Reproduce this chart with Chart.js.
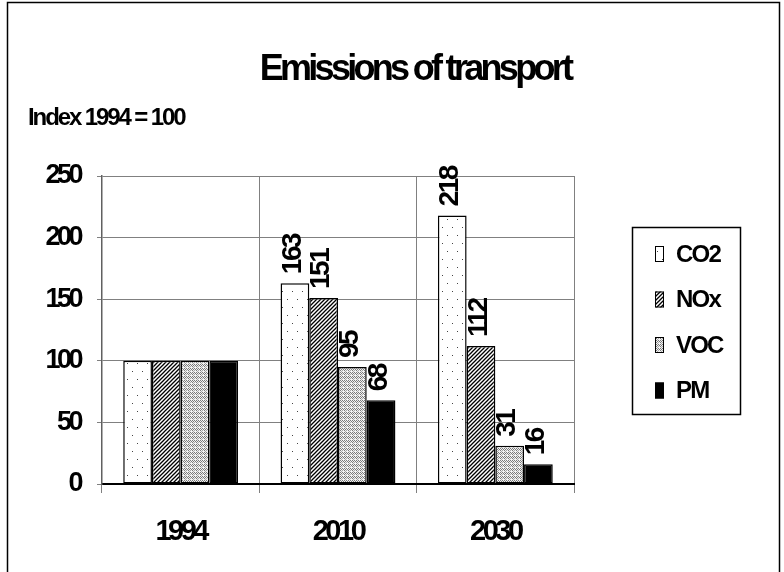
<!DOCTYPE html>
<html>
<head>
<meta charset="utf-8">
<script src="https://cdn.jsdelivr.net/npm/chart.js@4/dist/chart.umd.min.js"></script>
<style>
  html, body { margin: 0; padding: 0; background: #fff; }
  #wrap { width: 784px; height: 572px; }
</style>
</head>
<body>
<div id="wrap"><canvas id="emisiones" width="784" height="572"></canvas></div>
<script>
// datos (indice 1994 = 100)
const categorias = ['1994', '2010', '2030'];
const seriesNombres = ['CO2', 'NOx', 'VOC', 'PM'];
const co2 = [100, 163, 218];
const nox = [100, 151, 112];
const voc = [100, 95, 31];
const pm = [100, 68, 16];
const mostrarEtiqueta = [false, true, true]; // 1994 no lleva etiquetas
const yTicks = [0, 50, 100, 150, 200, 250];

const FUENTE = '"Liberation Sans", Arial, sans-serif';

// patrones de relleno (como en el grafico original en blanco y negro)
function patronPuntos() {
    const c = document.createElement('canvas');
    c.width = 10; c.height = 16;
    const g = c.getContext('2d');
    g.fillStyle = '#fff';
    g.fillRect(0, 0, 10, 16);
    g.fillStyle = '#444';
    g.fillRect(2, 3, 1, 1);
    g.fillRect(7, 11, 1, 1);
    return g.createPattern(c, 'repeat');
}

function patronRayas() {
    const c = document.createElement('canvas');
    c.width = 4; c.height = 4;
    const g = c.getContext('2d');
    g.fillStyle = '#fff';
    g.fillRect(0, 0, 4, 4);
    g.strokeStyle = '#000';
    g.lineWidth = 1.3;
    g.beginPath();
    g.moveTo(-1, 5); g.lineTo(5, -1);
    g.moveTo(-1, 1); g.lineTo(1, -1);
    g.moveTo(3, 5); g.lineTo(5, 3);
    g.stroke();
    return g.createPattern(c, 'repeat');
}

function patronRombos() {
    const c = document.createElement('canvas');
    c.width = 4; c.height = 4;
    const g = c.getContext('2d');
    g.fillStyle = '#f2f2f2';
    g.fillRect(0, 0, 4, 4);
    g.fillStyle = '#7a7a7a';
    g.fillRect(0, 0, 1, 1);
    g.fillRect(2, 0, 1, 1);
    g.fillRect(1, 1, 1, 1);
    g.fillRect(3, 1, 1, 1);
    g.fillRect(0, 2, 1, 1);
    g.fillStyle = '#a8a8a8';
    g.fillRect(2, 2, 1, 1);
    g.fillRect(1, 3, 1, 1);
    return g.createPattern(c, 'repeat');
}

const rellenos = [patronPuntos(), patronRayas(), patronRombos(), '#000'];
const valores = [co2, nox, voc, pm];

// fondo, marco, titulo, subtitulo y leyenda
const marcoPlugin = {
    id: 'marco',
    beforeLayout(chart) {
        chart.ctx.letterSpacing = '-3.5px';
    },
    beforeDraw(chart) {
        const ctx = chart.ctx;
        ctx.save();
        ctx.fillStyle = '#fff';
        ctx.fillRect(0, 0, chart.width, chart.height);
        ctx.strokeStyle = '#000';
        ctx.lineWidth = 1.5;
        ctx.strokeRect(7.5, 2.5, 772, 700);

        ctx.fillStyle = '#000';
        ctx.textBaseline = 'middle';
        ctx.textAlign = 'center';
        ctx.font = 'bold 36px ' + FUENTE;
        ctx.letterSpacing = '-3.7px';
        ctx.fillText('Emissions of transport', 415, 70);

        ctx.textAlign = 'left';
        ctx.font = 'bold 24px ' + FUENTE;
        ctx.letterSpacing = '-2.1px';
        ctx.fillText('Index 1994 = 100', 28, 118);

        // leyenda
        ctx.lineWidth = 1.5;
        ctx.strokeRect(632.5, 227.5, 108, 187);
        ctx.font = 'bold 24px ' + FUENTE;
        ctx.letterSpacing = '-1.8px';
        seriesNombres.forEach((nombre, i) => {
            const y = 254 + i * 45.5;
            ctx.fillStyle = rellenos[i];
            ctx.fillRect(655, y - 8, 9, 16);
            ctx.lineWidth = 1;
            ctx.strokeStyle = '#000';
            ctx.strokeRect(655.5, y - 7.5, 8, 15);
            ctx.fillStyle = '#000';
            ctx.fillText(nombre, 676, y + 1);
        });
        ctx.restore();
        ctx.letterSpacing = '-3.5px';
    }
};

// etiquetas verticales encima de las barras
const etiquetasPlugin = {
    id: 'etiquetas',
    afterDatasetsDraw(chart) {
        const ctx = chart.ctx;
        chart.data.datasets.forEach((ds, di) => {
            const meta = chart.getDatasetMeta(di);
            meta.data.forEach((bar, i) => {
                if (!mostrarEtiqueta[i]) return;
                ctx.save();
                ctx.translate(bar.x - 2, bar.y - 9);
                ctx.rotate(-Math.PI / 2);
                ctx.font = 'bold 28px ' + FUENTE;
                ctx.letterSpacing = '-2.5px';
                ctx.fillStyle = '#000';
                ctx.textAlign = 'left';
                ctx.textBaseline = 'middle';
                ctx.fillText(String(ds.data[i]), 0, 0);
                ctx.restore();
            });
        });
    }
};

const ctx = document.getElementById('emisiones').getContext('2d');
new Chart(ctx, {
    type: 'bar',
    data: {
        labels: categorias,
        datasets: seriesNombres.map((nombre, i) => ({
            label: nombre,
            data: valores[i],
            backgroundColor: rellenos[i],
            borderColor: '#000',
            borderWidth: 1.5,
            borderSkipped: false,
            barPercentage: 1,
            categoryPercentage: 0.73
        }))
    },
    options: {
        responsive: false,
        animation: false,
        events: [],
        layout: { padding: { top: 176, right: 210, left: 0, bottom: 0 } },
        plugins: {
            legend: { display: false },
            title: { display: false },
            tooltip: { enabled: false }
        },
        scales: {
            x: {
                offset: true,
                grid: { offset: true, color: '#808080', lineWidth: 1, tickLength: 9 },
                border: { color: '#000', width: 2 },
                ticks: {
                    color: '#000',
                    padding: 22,
                    font: { family: FUENTE, size: 29, weight: 'bold' }
                },
                afterFit(scale) { scale.height = 88; }
            },
            y: {
                min: 0,
                max: 250,
                afterBuildTicks(scale) {
                    scale.ticks = yTicks.map(v => ({ value: v }));
                },
                grid: { color: '#808080', lineWidth: 1, tickLength: 5 },
                border: { color: '#606060', width: 1.5 },
                ticks: {
                    color: '#000',
                    padding: 17,
                    font: { family: FUENTE, size: 27, weight: 'bold' }
                },
                afterFit(scale) { scale.width = 102; }
            }
        }
    },
    plugins: [marcoPlugin, etiquetasPlugin]
});
</script>
</body>
</html>
